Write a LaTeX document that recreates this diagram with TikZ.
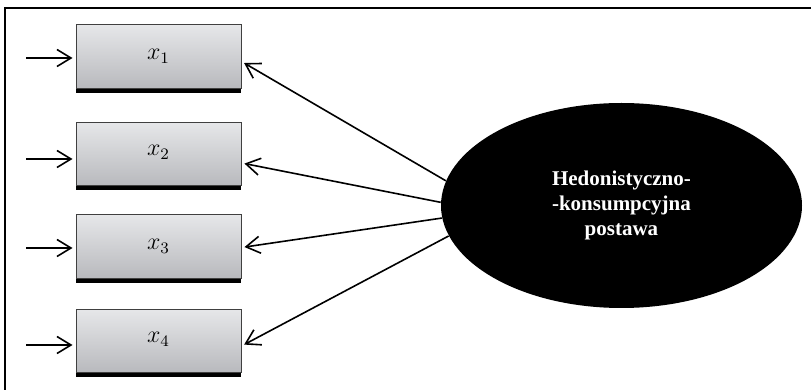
\documentclass[tikz,border=0pt]{standalone}
\usepackage{fontspec}
\setmainfont{Liberation Serif}
\usetikzlibrary{arrows.meta,shapes.geometric,shadows}
\definecolor{boxtop}{RGB}{230,231,233}
\definecolor{boxbot}{RGB}{184,185,189}
\definecolor{boxline}{RGB}{64,64,64}

\begin{document}
\begin{tikzpicture}[x=0.5pt,y=-0.5pt,
  var/.style={rectangle, draw=boxline, line width=0.5pt, top color=boxtop, bottom color=boxbot,
    minimum width=82.5pt, minimum height=31.75pt, inner sep=0pt,
    drop shadow={shadow xshift=0pt,shadow yshift=-2.2pt,fill=black,opacity=1}},
  latent/.style={ellipse, fill=black, text=white, minimum width=180.5pt, minimum height=102.5pt,
    align=center, font=\fontsize{10.5}{12.5}\selectfont\bfseries},
  arr/.style={line width=0.8pt, -{Straight Barb[length=7pt,width=8.5pt]}}]
\useasboundingbox (0,0) rectangle (811,390);
\draw[line width=1pt] (5,390) -- (5,8) -- (811,8);

\node[latent] (e) at (621.5,205.5) {Hedonistyczno-\\-konsumpcyjna\\postawa};

% box, text raise, in-arrow shift, out-arrow angle and shift
\foreach \i/\y/\r/\u/\a/\v in {1/56.5/-2/-0.75/172/-2.5, 2/154/3.6/-2.5/179/-4.5,
                               3/246.5/-1.7/-0.75/184/-0.5, 4/341/3.5/-2/190/-2.5}{
  \node[var] (x\i) at (158.5,\y) {\raisebox{\r pt}{\fontsize{12}{14}\selectfont$x_{\i}$}};
  \coordinate (in\i) at (26,\y);
  \draw[arr, shorten >=1.5pt] ([yshift=\u pt]in\i) -- ([yshift=\u pt]x\i.west);
  \draw[arr, shorten >=1.5pt] (e.\a) -- ([yshift=\v pt]x\i.east);
}
\end{tikzpicture}
\end{document}
